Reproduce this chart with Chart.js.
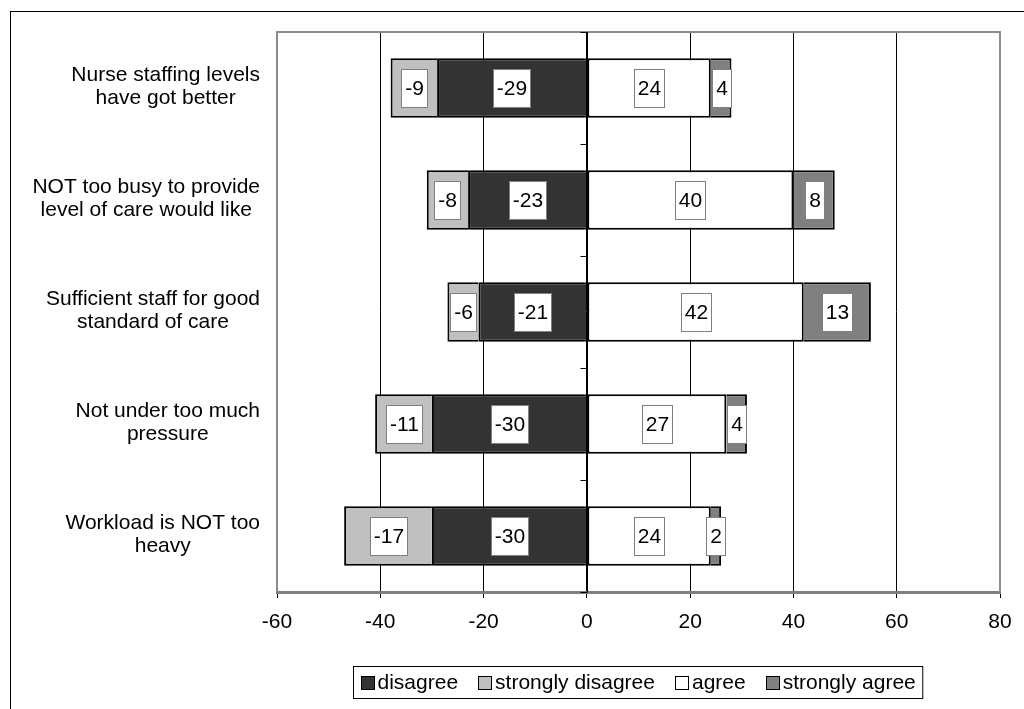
<!DOCTYPE html>
<html lang="en">
<head>
    <meta charset="UTF-8">
    <title>Nurse staffing opinions</title>
    <script src="https://cdn.jsdelivr.net/npm/chart.js"></script>
    <style>
        html, body {
            margin: 0;
            padding: 0;
            background-color: #fff;
            overflow: hidden;
        }
        .frame {
            position: absolute;
            left: 10px;
            top: 11px;
            width: 1100px;
            height: 800px;
            border: 1px solid #000;
        }
        .chart-box {
            position: absolute;
            left: 0;
            top: 0;
            width: 1024px;
            height: 709px;
        }
    </style>
</head>
<body>
    <div class="frame"></div>
    <div class="chart-box">
        <canvas id="barChart" width="1024" height="709"></canvas>
    </div>

    <script>
        const categories = [
            ['Nurse staffing levels', 'have got better'],
            ['NOT too busy to provide', 'level of care would like'],
            ['Sufficient staff for good', 'standard of care'],
            ['Not under too much', 'pressure'],
            ['Workload is NOT too', 'heavy']
        ];
        const disagree = [-29, -23, -21, -30, -30];
        const stronglyDisagree = [-9, -8, -6, -11, -17];
        const agree = [24, 40, 42, 27, 24];
        const stronglyAgree = [4, 8, 13, 4, 2];
        const xTicks = [-60, -40, -20, 0, 20, 40, 60, 80];

        const FONT_FAMILY = "'Liberation Sans', Arial, sans-serif";
        const FONT = '21px ' + FONT_FAMILY;

        // zero axis, plot frame, category labels, value boxes and the legend
        const decorations = {
            id: 'decorations',
            beforeDatasetsDraw(chart) {
                const { ctx, chartArea, scales: { x, y } } = chart;
                ctx.save();
                // grey plot frame (bottom edge is the x axis border)
                ctx.strokeStyle = '#8c8c8c';
                ctx.lineWidth = 2;
                ctx.beginPath();
                ctx.moveTo(chartArea.left, chartArea.bottom);
                ctx.lineTo(chartArea.left, chartArea.top);
                ctx.lineTo(chartArea.right, chartArea.top);
                ctx.lineTo(chartArea.right, chartArea.bottom);
                ctx.stroke();

                // category axis sits at zero, ticks at the category boundaries
                const x0 = Math.round(x.getPixelForValue(0)) + 0.5;
                ctx.strokeStyle = '#000';
                ctx.lineWidth = 1;
                ctx.beginPath();
                ctx.moveTo(x0, chartArea.top);
                ctx.lineTo(x0, chartArea.bottom);
                for (let i = 0; i <= categories.length; i++) {
                    const yy = Math.round(y.getPixelForValue(i - 0.5)) + 0.5;
                    ctx.moveTo(x0 - 7, yy);
                    ctx.lineTo(x0, yy);
                }
                ctx.stroke();
                ctx.restore();
            },
            afterDatasetsDraw(chart) {
                const { ctx } = chart;
                ctx.save();
                ctx.font = FONT;
                ctx.textAlign = 'center';
                ctx.textBaseline = 'middle';
                chart.data.datasets.forEach((ds, di) => {
                    const meta = chart.getDatasetMeta(di);
                    meta.data.forEach((bar, i) => {
                        const { x, base, y } = bar.getProps(['x', 'base', 'y'], true);
                        const text = String(ds.data[i]);
                        const w = Math.round(ctx.measureText(text).width + 7);
                        const h = 38;
                        const cx = (x + base) / 2;
                        const bx = Math.round(cx - w / 2) + 0.5;
                        const by = Math.round(y - h / 2) + 0.5;
                        ctx.fillStyle = '#fff';
                        ctx.fillRect(bx, by, w, h);
                        ctx.strokeStyle = '#808080';
                        ctx.lineWidth = 1;
                        ctx.strokeRect(bx, by, w, h);
                        ctx.fillStyle = '#000';
                        ctx.fillText(text, bx + w / 2, y + 1);
                    });
                });
                ctx.restore();
            },
            afterDraw(chart) {
                const { ctx, chartArea, scales: { y } } = chart;
                ctx.save();
                ctx.font = FONT;
                ctx.fillStyle = '#000';
                ctx.textAlign = 'center';
                ctx.textBaseline = 'middle';

                // category labels: block right aligned, lines centred
                const rightEdge = chartArea.left - 17;
                categories.forEach((lines, i) => {
                    const cy = y.getPixelForValue(i) - 1;
                    const blockW = Math.max(...lines.map(l => ctx.measureText(l).width));
                    const cx = rightEdge - blockW / 2;
                    lines.forEach((line, k) => {
                        ctx.fillText(line, cx, cy + (k - (lines.length - 1) / 2) * 23);
                    });
                });

                // legend in a frame below the axis
                const box = 13, gap = 4, spacing = 20, pad = 7;
                const items = chart.data.datasets.map(ds => ({
                    text: ds.label,
                    color: ds.backgroundColor,
                    w: ctx.measureText(ds.label).width
                }));
                const totalW = items.reduce((s, it) => s + box + gap + it.w, 0)
                    + spacing * (items.length - 1) + pad * 2;
                const centerX = (chartArea.left + chartArea.right) / 2 - 1;
                const top = 666, height = 32;
                const left = Math.round(centerX - totalW / 2) + 0.5;
                ctx.fillStyle = '#fff';
                ctx.fillRect(left, top + 0.5, totalW, height);
                ctx.strokeStyle = '#000';
                ctx.lineWidth = 1;
                ctx.strokeRect(left, top + 0.5, totalW, height);
                const midY = top + height / 2 + 0.5;
                let px = left + pad;
                ctx.textAlign = 'left';
                items.forEach(it => {
                    const bx = Math.round(px) + 0.5;
                    const by = Math.round(midY - box / 2) + 0.5;
                    ctx.fillStyle = it.color;
                    ctx.fillRect(bx, by, box, box);
                    ctx.strokeStyle = '#000';
                    ctx.strokeRect(bx, by, box, box);
                    ctx.fillStyle = '#000';
                    ctx.fillText(it.text, px + box + gap, midY + 1);
                    px += box + gap + it.w + spacing;
                });
                ctx.restore();
            }
        };

        const ctx = document.getElementById('barChart').getContext('2d');
        new Chart(ctx, {
            type: 'bar',
            data: {
                labels: categories,
                datasets: [
                    {
                        label: 'disagree',
                        data: disagree,
                        backgroundColor: '#333333',
                        borderColor: '#000',
                        borderWidth: 2,
                        borderSkipped: 'start'
                    },
                    {
                        label: 'strongly disagree',
                        data: stronglyDisagree,
                        backgroundColor: '#c0c0c0',
                        borderColor: '#000',
                        borderWidth: 2,
                        borderSkipped: 'start'
                    },
                    {
                        label: 'agree',
                        data: agree,
                        backgroundColor: '#ffffff',
                        borderColor: '#000',
                        borderWidth: 2,
                        borderSkipped: false
                    },
                    {
                        label: 'strongly agree',
                        data: stronglyAgree,
                        backgroundColor: '#808080',
                        borderColor: '#000',
                        borderWidth: 2,
                        borderSkipped: 'start'
                    }
                ]
            },
            options: {
                responsive: false,
                animation: false,
                indexAxis: 'y',
                layout: {
                    padding: { left: 277, top: 32, right: 24, bottom: 0 }
                },
                datasets: {
                    bar: {
                        categoryPercentage: 1,
                        barPercentage: 0.53
                    }
                },
                plugins: {
                    legend: { display: false },
                    tooltip: { enabled: false }
                },
                scales: {
                    x: {
                        stacked: true,
                        min: xTicks[0],
                        max: xTicks[xTicks.length - 1],
                        afterFit(scale) {
                            scale.height = 117;
                        },
                        afterBuildTicks(scale) {
                            scale.ticks = xTicks.map(v => ({ value: v }));
                        },
                        ticks: {
                            color: '#000',
                            padding: 12,
                            maxRotation: 0,
                            font: { family: FONT_FAMILY, size: 21 }
                        },
                        grid: {
                            color: c => (c.tick && (c.tick.value === xTicks[0] ||
                                c.tick.value === xTicks[xTicks.length - 1]))
                                ? 'rgba(0,0,0,0)' : '#000',
                            lineWidth: 1,
                            tickLength: 6,
                            tickColor: '#000'
                        },
                        border: {
                            color: '#808080',
                            width: 3
                        }
                    },
                    y: {
                        stacked: true,
                        display: false
                    }
                }
            },
            plugins: [decorations]
        });
    </script>
</body>
</html>
